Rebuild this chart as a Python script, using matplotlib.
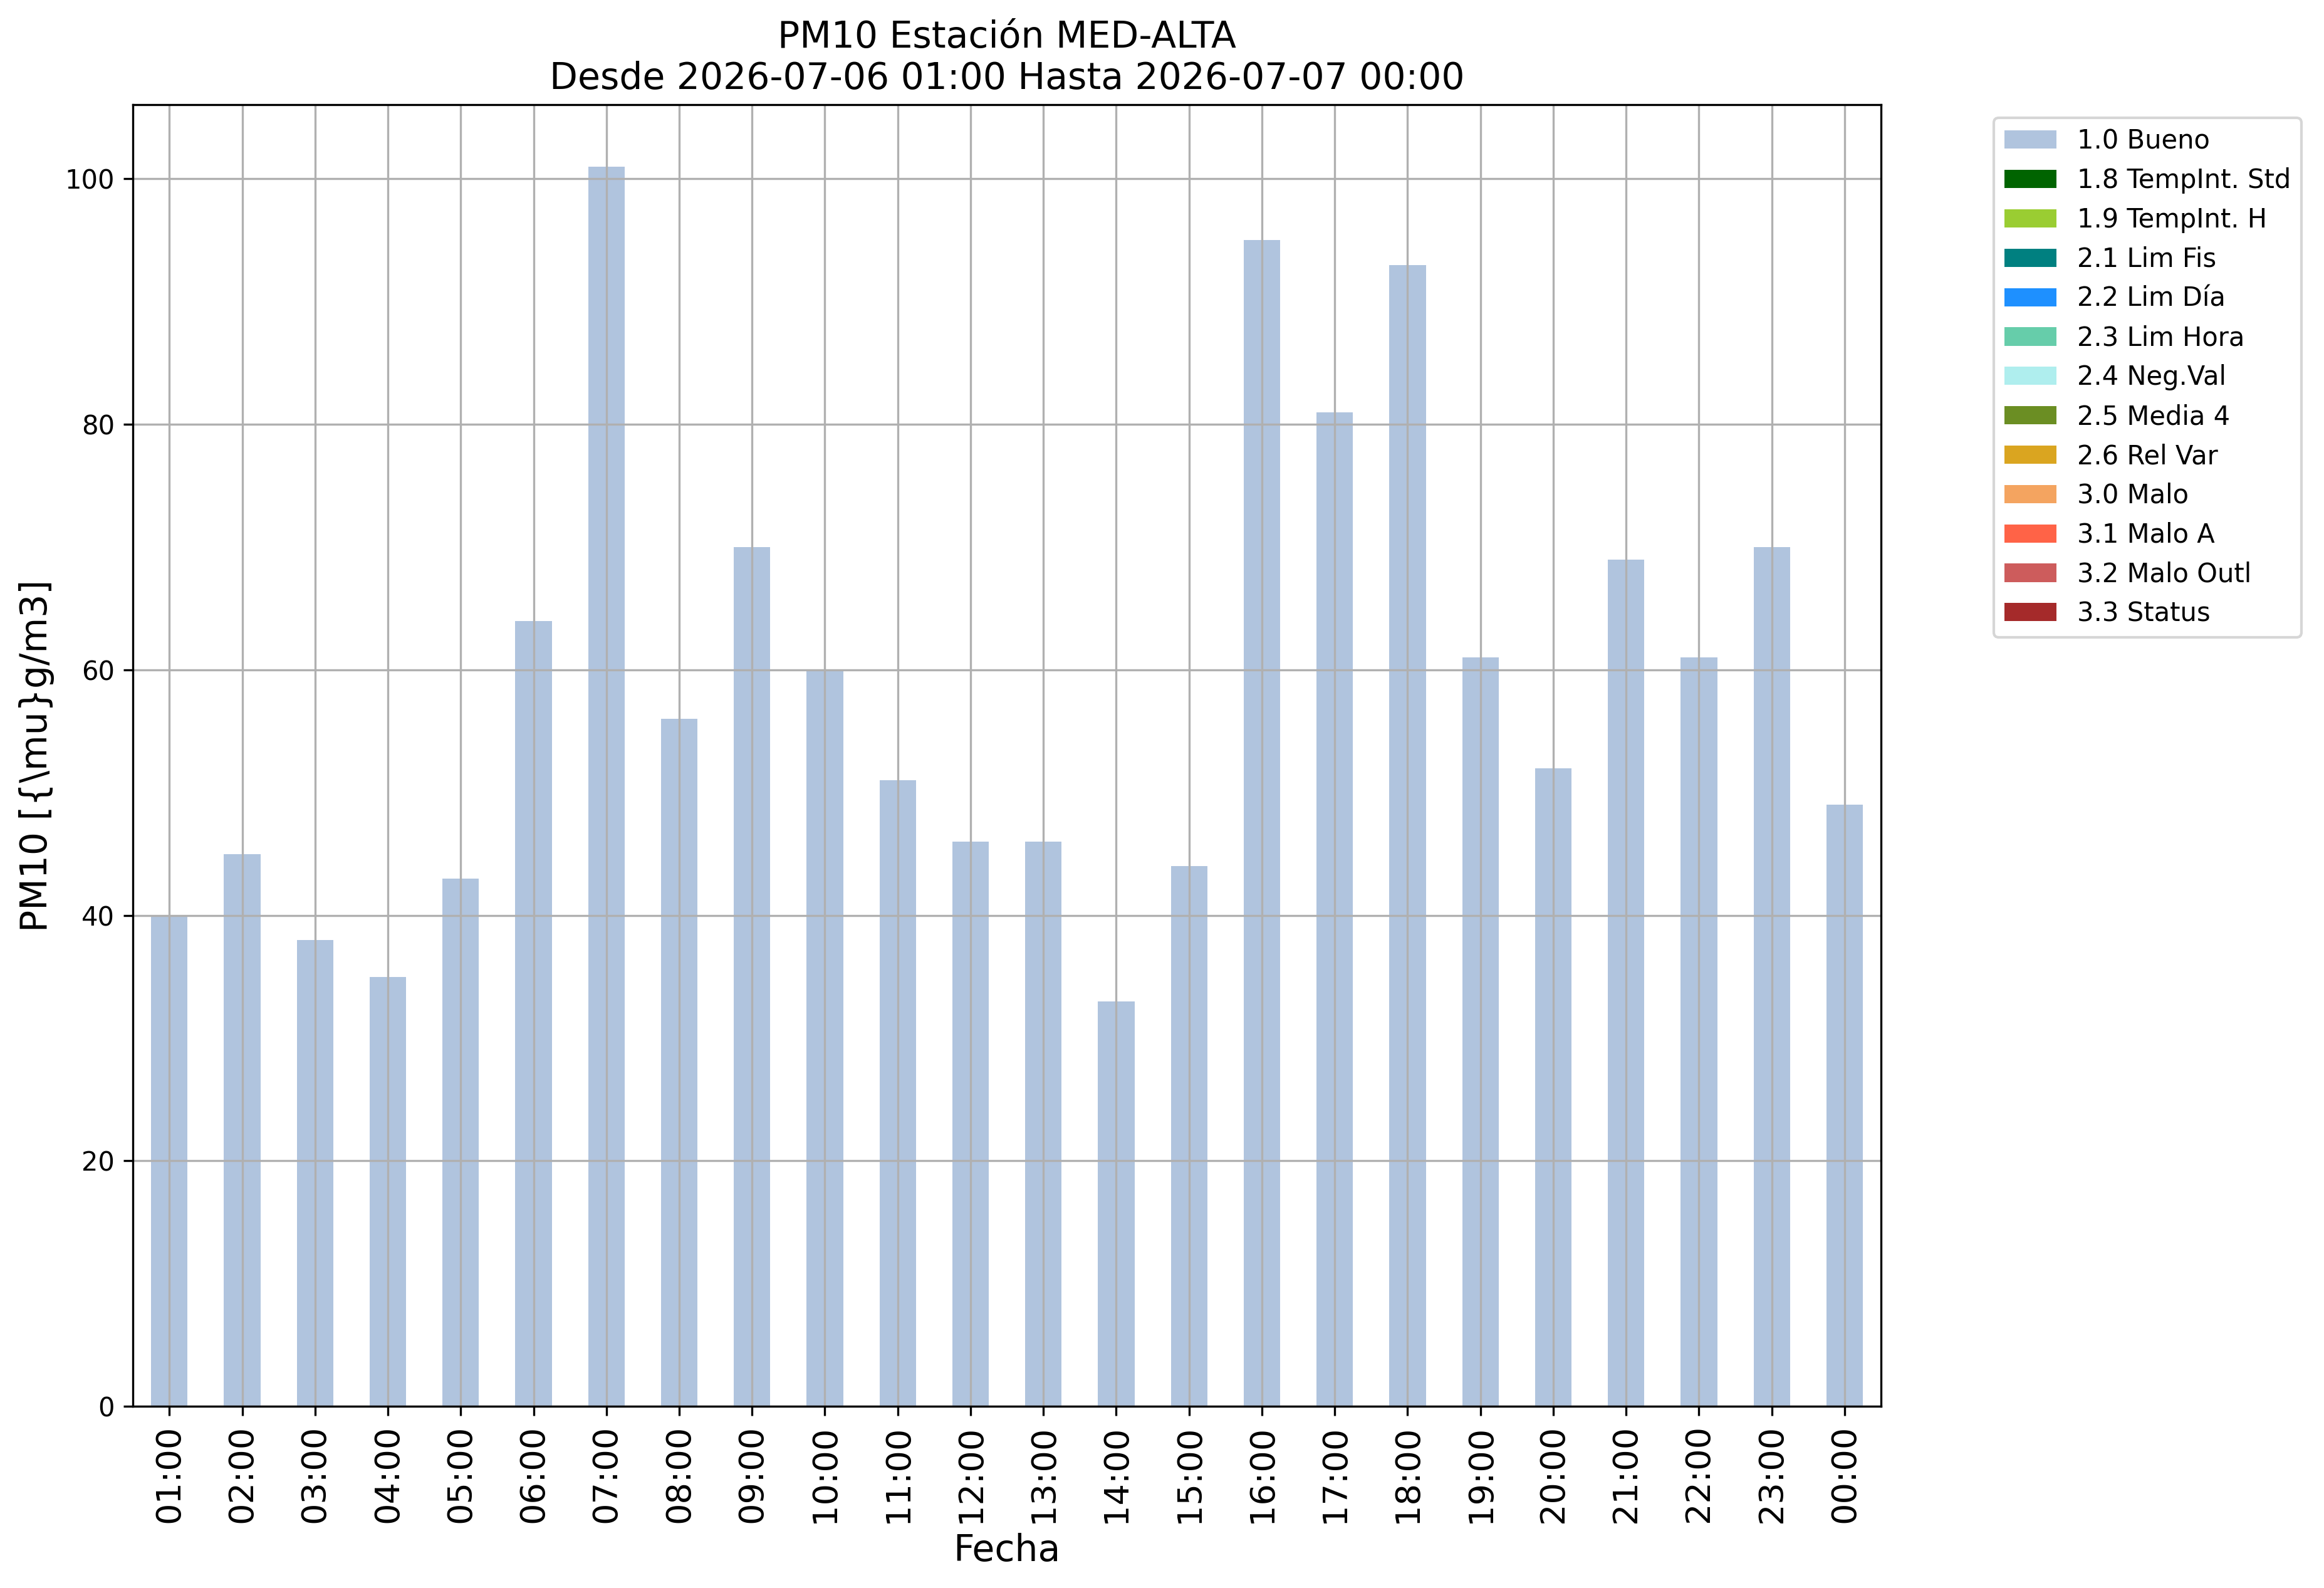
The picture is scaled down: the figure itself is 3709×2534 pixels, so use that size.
import matplotlib
matplotlib.use("Agg")
import matplotlib.pyplot as plt
import numpy as np

horas = ["01:00", "02:00", "03:00", "04:00", "05:00", "06:00", "07:00", "08:00",
         "09:00", "10:00", "11:00", "12:00", "13:00", "14:00", "15:00", "16:00",
         "17:00", "18:00", "19:00", "20:00", "21:00", "22:00", "23:00", "00:00"]

pm10_bueno = [40, 45, 38, 35, 43, 64, 101, 56, 70, 60, 51, 46,
              46, 33, 44, 95, 81, 93, 61, 52, 69, 61, 70, 49]

categorias = ["1.0 Bueno", "1.8 TempInt. Std", "1.9 TempInt. H", "2.1 Lim Fis",
              "2.2 Lim Día", "2.3 Lim Hora", "2.4 Neg.Val", "2.5 Media 4",
              "2.6 Rel Var", "3.0 Malo", "3.1 Malo A", "3.2 Malo Outl", "3.3 Status"]

colores = ["lightsteelblue", "darkgreen", "yellowgreen", "teal", "dodgerblue",
           "mediumaquamarine", "paleturquoise", "olivedrab", "goldenrod",
           "sandybrown", "tomato", "indianred", "brown"]


def main():
    fig = plt.figure(figsize=(3709 / 300, 2534 / 300), dpi=300)
    ax = fig.add_axes([0.0572, 0.1144, 0.8094 - 0.0572, 0.9341 - 0.1144])

    x = np.arange(len(horas))
    # solo la categoria "Bueno" tiene datos, el resto va a cero
    series = [pm10_bueno] + [[0] * len(horas) for _ in categorias[1:]]
    bottom = np.zeros(len(horas))
    for nombre, valores, color in zip(categorias, series, colores):
        ax.bar(x, valores, width=0.5, bottom=bottom, color=color, label=nombre)
        bottom = bottom + np.array(valores)

    ax.set_xlim(-0.5, len(horas) - 0.5)
    ax.set_ylim(0, bottom.max() * 1.05)
    ax.set_xticks(x)
    ax.set_xticklabels(horas, rotation=90, fontsize=13)
    ax.tick_params(axis="y", labelsize=10)
    ax.grid(True)

    ax.set_title("PM10 Estación MED-ALTA\nDesde 2026-07-06 01:00 Hasta 2026-07-07 00:00",
                 fontsize=14)
    ax.set_xlabel("Fecha", fontsize=14)
    ax.set_ylabel("PM10 [{\\mu}g/m3]", fontsize=14)

    ax.legend(loc="upper left", bbox_to_anchor=(1.057, 1.0), fontsize=10)

    fig.savefig("out.png", dpi=300)


if __name__ == "__main__":
    main()
